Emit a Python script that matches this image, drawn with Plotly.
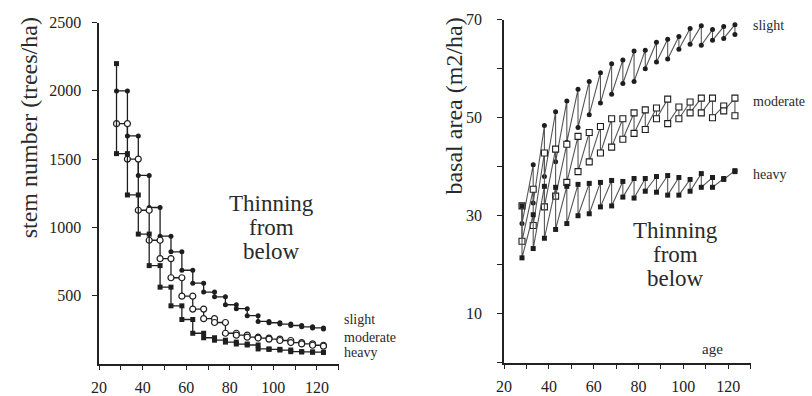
import plotly.graph_objects as go

W, H = 812, 396

# ---------------- data ----------------
ages = [28, 33, 38, 43, 48, 53, 58, 63, 68, 73, 78, 83, 88, 93, 98, 103, 108, 113, 118, 123]

# stem number (trees/ha) before first thinning (shared by all regimes)
stem_start = 2200
# stem number remaining after each thinning
stem_slight = [2000, 1670, 1380, 1145, 935, 820, 685, 590, 525, 490, 432, 403, 352, 310, 300, 290, 280, 270, 262, 255]
stem_moderate = [1760, 1500, 1125, 905, 770, 630, 495, 400, 330, 302, 223, 209, 194, 188, 180, 170, 155, 145, 135, 128]
stem_heavy = [1540, 1237, 950, 719, 561, 424, 324, 223, 190, 172, 158, 144, 137, 108, 105, 100, 88, 86, 84, 82]

# basal area (m2/ha) before and after each thinning
ba_slight_before = [32, 40.4, 48.4, 51.2, 53.4, 55.8, 57.4, 59.2, 61.0, 61.8, 63.6, 63.8, 65.4, 66.0, 66.6, 68.2, 68.8, 68.0, 68.6, 69.0]
ba_slight_after = [28.4, 32.6, 38.0, 41.0, 45.0, 48.0, 50.6, 53.0, 54.8, 57.0, 57.4, 60.0, 61.4, 62.0, 64.0, 65.0, 64.8, 65.8, 66.2, 67.0]
ba_moderate_before = [32, 35.4, 42.8, 43.6, 44.6, 46.2, 47.0, 48.2, 49.8, 49.8, 51.0, 51.6, 52.0, 53.8, 52.2, 53.2, 54.0, 54.0, 52.4, 54.0]
ba_moderate_after = [24.8, 28.0, 31.8, 34.0, 36.8, 39.0, 41.0, 42.8, 44.0, 45.6, 46.8, 47.6, 49.8, 48.8, 49.8, 51.0, 51.0, 50.0, 51.4, 50.4]
ba_heavy_before = [32, 30.2, 36.0, 35.8, 36.0, 36.4, 36.6, 36.8, 37.2, 37.0, 37.6, 37.6, 38.0, 38.2, 37.8, 37.4, 38.6, 37.8, 37.6, 39.2]
ba_heavy_after = [21.4, 23.3, 25.4, 27.2, 28.4, 30.0, 30.4, 31.8, 32.0, 33.8, 33.6, 35.0, 34.8, 34.2, 34.2, 35.0, 35.8, 35.8, 37.4, 39.0]

x_ticks = [20, 40, 60, 80, 100, 120]
stem_ticks = [500, 1000, 1500, 2000, 2500]
ba_ticks = [10, 30, 50, 70]
series_names = ["slight", "moderate", "heavy"]

SERIF = "Liberation Serif"
INK = "#1e1e1e"


def step_path(start, after):
    xs, ys = [], []
    if start is not None:
        xs.append(ages[0])
        ys.append(start)
    for i, a in enumerate(ages):
        xs.append(a)
        ys.append(after[i])
        if i + 1 < len(ages):
            xs.append(ages[i + 1])
            ys.append(after[i])
    return xs, ys


def zig_path(before, after):
    xs, ys = [], []
    for i, a in enumerate(ages):
        xs += [a, a]
        ys += [before[i], after[i]]
    return xs, ys


fig = go.Figure()

left_styles = {
    "slight": dict(symbol="circle", size=5, color=INK, line=dict(width=0)),
    "moderate": dict(symbol="circle", size=6, color="white", line=dict(color=INK, width=1.2)),
    "heavy": dict(symbol="square", size=5, color=INK, line=dict(width=0)),
}
right_styles = {
    "slight": dict(symbol="circle", size=5, color=INK, line=dict(width=0)),
    "moderate": dict(symbol="square", size=6, color="white", line=dict(color=INK, width=1.1)),
    "heavy": dict(symbol="square", size=5, color=INK, line=dict(width=0)),
}

left_data = {"slight": stem_slight, "moderate": stem_moderate, "heavy": stem_heavy}
for name in series_names:
    start = stem_start if name == "heavy" else None
    xs, ys = step_path(start, left_data[name])
    fig.add_trace(go.Scatter(x=xs, y=ys, mode="lines+markers", name=name,
                             line=dict(color=INK, width=1.3),
                             marker=left_styles[name], xaxis="x", yaxis="y",
                             showlegend=False, cliponaxis=False))

right_data = {"slight": (ba_slight_before, ba_slight_after),
              "moderate": (ba_moderate_before, ba_moderate_after),
              "heavy": (ba_heavy_before, ba_heavy_after)}
for name in series_names:
    b, a = right_data[name]
    xs, ys = zig_path(b, a)
    fig.add_trace(go.Scatter(x=xs, y=ys, mode="lines+markers", name=name,
                             line=dict(color="#555", width=1.1),
                             marker=right_styles[name], xaxis="x2", yaxis="y2",
                             showlegend=False, cliponaxis=False))

axis_common = dict(showgrid=False, zeroline=False, showline=True, linecolor="#222", linewidth=1.5,
                   ticks="outside", tickcolor="#222", ticklen=5, tickwidth=1.3,
                   tickfont=dict(family=SERIF, size=16, color="#222"))

fig.update_layout(
    width=W, height=H, margin=dict(l=0, r=0, t=0, b=0),
    paper_bgcolor="white", plot_bgcolor="white",
    xaxis=dict(domain=[92 / W, 334 / W], range=[20, 130], tickvals=x_ticks,
               minor=dict(dtick=10, tick0=20, ticks="outside", ticklen=5, tickcolor="#222"),
               anchor="y", ticklabelstandoff=3, **axis_common),
    yaxis=dict(domain=[(H - 363) / H, (H - 15) / H], range=[0, 2500], tickvals=stem_ticks,
               anchor="x", ticklabelstandoff=8, **axis_common),
    xaxis2=dict(domain=[501 / W, 750 / W], range=[20, 130], tickvals=x_ticks,
                minor=dict(dtick=10, tick0=20, ticks="outside", ticklen=5, tickcolor="#222"),
                anchor="y2", ticklabelstandoff=3, **axis_common),
    yaxis2=dict(domain=[(H - 362) / H, (H - 12) / H], range=[0, 70], tickvals=ba_ticks,
                minor=dict(dtick=10, tick0=0, ticks="outside", ticklen=5, tickcolor="#222"),
                anchor="x2", ticklabelstandoff=12, **axis_common),
)

ann = []
txt = dict(family=SERIF, color="#2a2a2a")
# axis titles
ann.append(dict(xref="paper", yref="paper", x=21 / W, y=(H - 122) / H, text="stem number (trees/ha)",
                textangle=-90, showarrow=False, xanchor="center", yanchor="middle",
                font=dict(size=24, **txt)))
ann.append(dict(xref="paper", yref="paper", x=450 / W, y=(H - 100) / H, text="basal area (m2/ha)",
                textangle=-90, showarrow=False, xanchor="center", yanchor="middle",
                font=dict(size=24, **txt)))
# Thinning from below (left)
for line, yy in zip(["Thinning", "from", "below"], [1171, 995, 819]):
    ann.append(dict(xref="x", yref="y", x=99, y=yy, text=line, showarrow=False,
                    xanchor="center", yanchor="middle", font=dict(size=23, **txt)))
# Thinning from below (right)
for line, yy in zip(["Thinning", "from", "below"], [27.0, 22.1, 17.2]):
    ann.append(dict(xref="x2", yref="y2", x=96.5, y=yy, text=line, showarrow=False,
                    xanchor="center", yanchor="middle", font=dict(size=23, **txt)))
# series labels left (placed just right of the left axis end)
for name, py in zip(series_names, [318, 336, 352]):
    ann.append(dict(xref="paper", yref="paper", x=337 / W, y=(H - py) / H, text=name,
                    showarrow=False, xanchor="left", yanchor="middle",
                    font=dict(size=14, **txt)))
# series labels right
for name, yy in zip(series_names, [68.8, 53.4, 38.4]):
    ann.append(dict(xref="x2", yref="y2", x=130, y=yy, text=name, showarrow=False,
                    xanchor="left", yanchor="middle", font=dict(size=14, **txt)))
ann.append(dict(xref="x2", yref="y2", x=113, y=2.8, text="age", showarrow=False,
                xanchor="center", yanchor="middle", font=dict(size=15, **txt)))
fig.update_layout(annotations=ann)

fig.write_html("out.html")
